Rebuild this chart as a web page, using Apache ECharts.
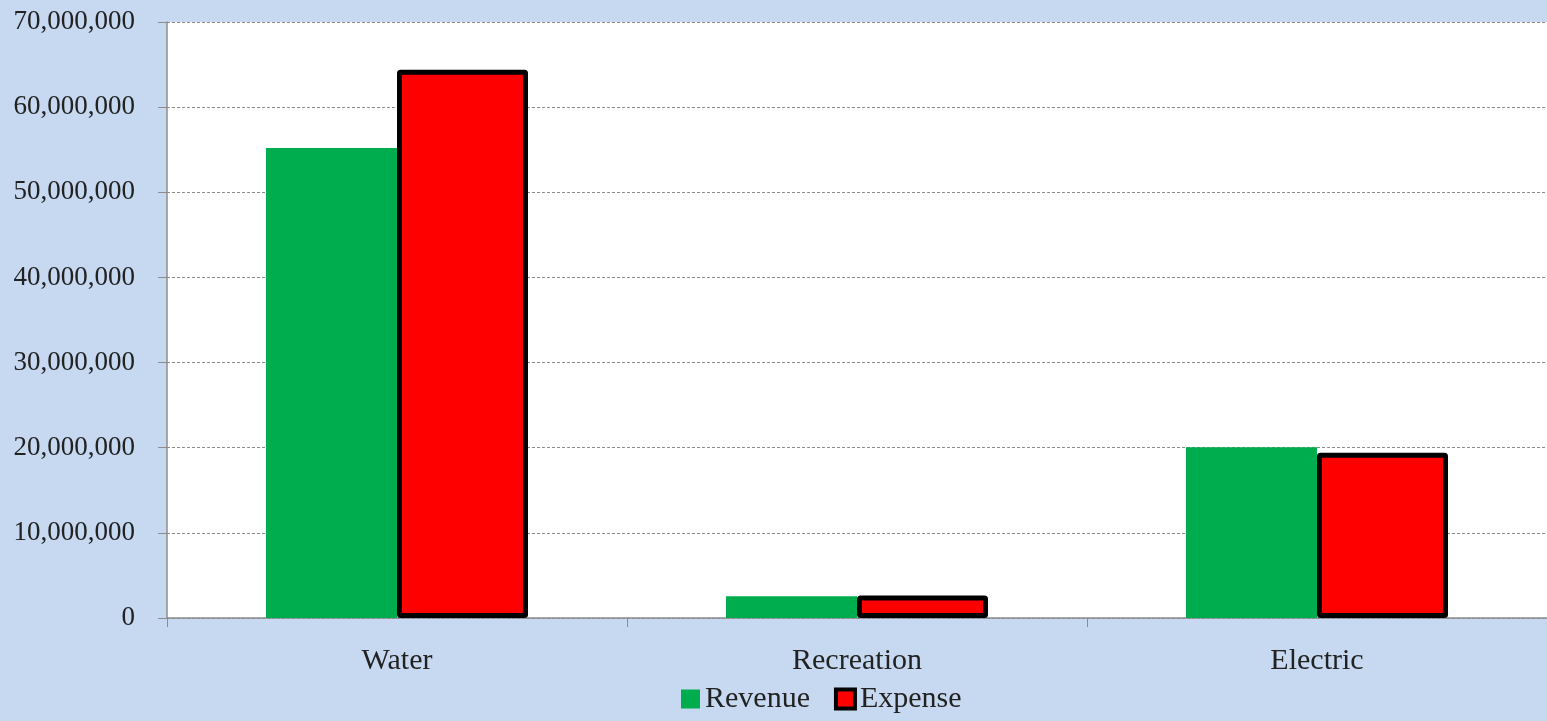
<!DOCTYPE html>
<html>
<head>
<meta charset="utf-8">
<script src="https://cdn.jsdelivr.net/npm/echarts@6/dist/echarts.min.js"></script>
<style>
    html, body { margin: 0; padding: 0; background: #c6d9f1; }
    #chart { width: 1547px; height: 721px; }
</style>
</head>
<body>
<div id="chart"></div>
<script>
// departments and their totals
const categories = ['Water', 'Recreation', 'Electric'];
const revenue = [55200000, 2550000, 20050000];
const expense = [64400000, 2650000, 19400000];

const yTicks = { min: 0, max: 70000000, interval: 10000000 };

let chartDom = document.getElementById('chart');
let myChart = echarts.init(chartDom);
let option;

const labelFont = {
    fontFamily: 'Liberation Serif',
    fontSize: 27,
    color: '#222'
};
const bigFont = Object.assign({}, labelFont, { fontSize: 30 });

option = {
    backgroundColor: '#c6d9f1',
    animation: false,
    grid: {
        left: 167,
        right: 0,
        top: 22,
        bottom: 103,
        show: true,
        backgroundColor: '#ffffff',
        borderWidth: 0
    },
    legend: {
        data: ['Revenue', { name: 'Expense', itemStyle: { borderWidth: 4 } }],
        bottom: 2,
        left: 676,
        icon: 'rect',
        itemWidth: 19,
        itemHeight: 19,
        itemGap: 24,
        textStyle: bigFont
    },
    xAxis: {
        type: 'category',
        data: categories,
        axisLine: { lineStyle: { color: '#8c8c8c', width: 1.5 } },
        axisTick: { show: true, length: 9, lineStyle: { color: '#8c8c8c' } },
        axisLabel: Object.assign({ margin: 28 }, bigFont)
    },
    yAxis: {
        type: 'value',
        min: yTicks.min,
        max: yTicks.max,
        interval: yTicks.interval,
        axisLine: { show: true, lineStyle: { color: '#8c8c8c', width: 1.5 } },
        axisTick: { show: true, length: 9, lineStyle: { color: '#8c8c8c' } },
        axisLabel: Object.assign({
            margin: 32,
            formatter: v => v.toLocaleString('en-US')
        }, labelFont),
        splitLine: { lineStyle: { color: '#8c8c8c', type: [3, 2], width: 1 } }
    },
    series: [
        {
            name: 'Revenue',
            type: 'bar',
            data: revenue,
            barWidth: 131,
            barGap: '0%',
            itemStyle: { color: '#00ad4e' }
        },
        {
            name: 'Expense',
            type: 'bar',
            data: expense,
            barWidth: 131,
            itemStyle: { color: '#ff0000', borderColor: '#000000', borderWidth: 5, borderRadius: 1 }
        }
    ]
};
option && myChart.setOption(option);
</script>
</body>
</html>
